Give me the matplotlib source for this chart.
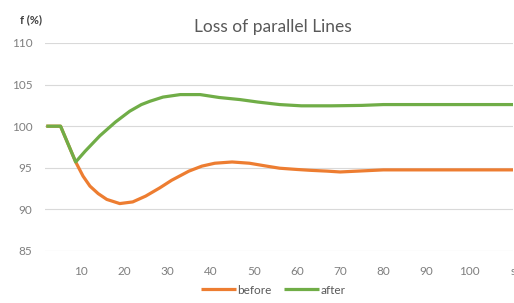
import matplotlib.pyplot as plt

# values
t_after = [2, 5.3, 8.8, 11, 14.4, 18, 21.3, 24, 26, 29, 33, 37.6, 42, 46.8, 51,
           56, 61, 68, 75, 80, 90, 100, 110]
after = [100, 100, 95.7, 97.0, 98.85, 100.5, 101.8, 102.6, 103.0, 103.5, 103.8,
         103.8, 103.45, 103.2, 102.9, 102.6, 102.45, 102.45, 102.5, 102.6,
         102.6, 102.6, 102.6]

t_before = [2, 5.3, 8.8, 10.5, 12.1, 14, 16, 19, 22, 25, 28.3, 31, 35, 38, 41,
            45, 49, 53, 56, 60, 63, 67, 70, 74, 80, 90, 100, 110]
before = [100, 100, 95.7, 94.0, 92.8, 91.9, 91.2, 90.7, 90.9, 91.6, 92.6, 93.5,
          94.6, 95.2, 95.55, 95.7, 95.55, 95.2, 94.95, 94.8, 94.7, 94.6, 94.5,
          94.6, 94.75, 94.75, 94.75, 94.75]

x_ticks = [10, 20, 30, 40, 50, 60, 70, 80, 90, 100, 110]
x_labels = ["10", "20", "30", "40", "50", "60", "70", "80", "90", "100", "s"]
y_ticks = [85, 90, 95, 100, 105, 110]

plt.rcParams["font.family"] = ["Lato", "DejaVu Sans"]
grey = "#595959"

fig = plt.figure(figsize=(5.14, 3.03), dpi=100)
ax = fig.add_axes([45 / 514, 1 - 251 / 303, 468 / 514, 208 / 303])

ax.plot(t_before, before, color="#ED7D31", lw=2.3, label="before",
        solid_capstyle="butt", solid_joinstyle="round", zorder=3)
ax.plot(t_after, after, color="#70AD47", lw=2.3, label="after",
        solid_capstyle="butt", solid_joinstyle="round", zorder=4)

ax.set_xlim(1.7, 110)
ax.set_ylim(85, 110)
ax.set_xticks(x_ticks)
ax.set_xticklabels(x_labels)
ax.set_yticks(y_ticks)
ax.tick_params(axis="both", length=0, labelsize=8.5, colors="#7F7F7F")
ax.tick_params(axis="x", pad=11)
ax.tick_params(axis="y", pad=9)
ax.grid(axis="y", color="#D9D9D9", lw=0.8)
ax.set_axisbelow(True)
for s in ax.spines.values():
    s.set_visible(False)

fig.text(273 / 514, 1 - 27 / 303, "Loss of parallel Lines", ha="center",
         va="center", fontsize=12.5, color=grey)
fig.text(20 / 514, 1 - 20 / 303, "f (%)", ha="left", va="center",
         fontsize=8, color="#404040", fontweight="bold")

ax.legend(loc="center", bbox_to_anchor=(273 / 514, 1 - 290 / 303),
          bbox_transform=fig.transFigure, ncol=2, frameon=False,
          fontsize=8.5, handlelength=3.0, handletextpad=0.1,
          columnspacing=1.0, labelcolor=grey)

fig.savefig("out.png", dpi=100)
